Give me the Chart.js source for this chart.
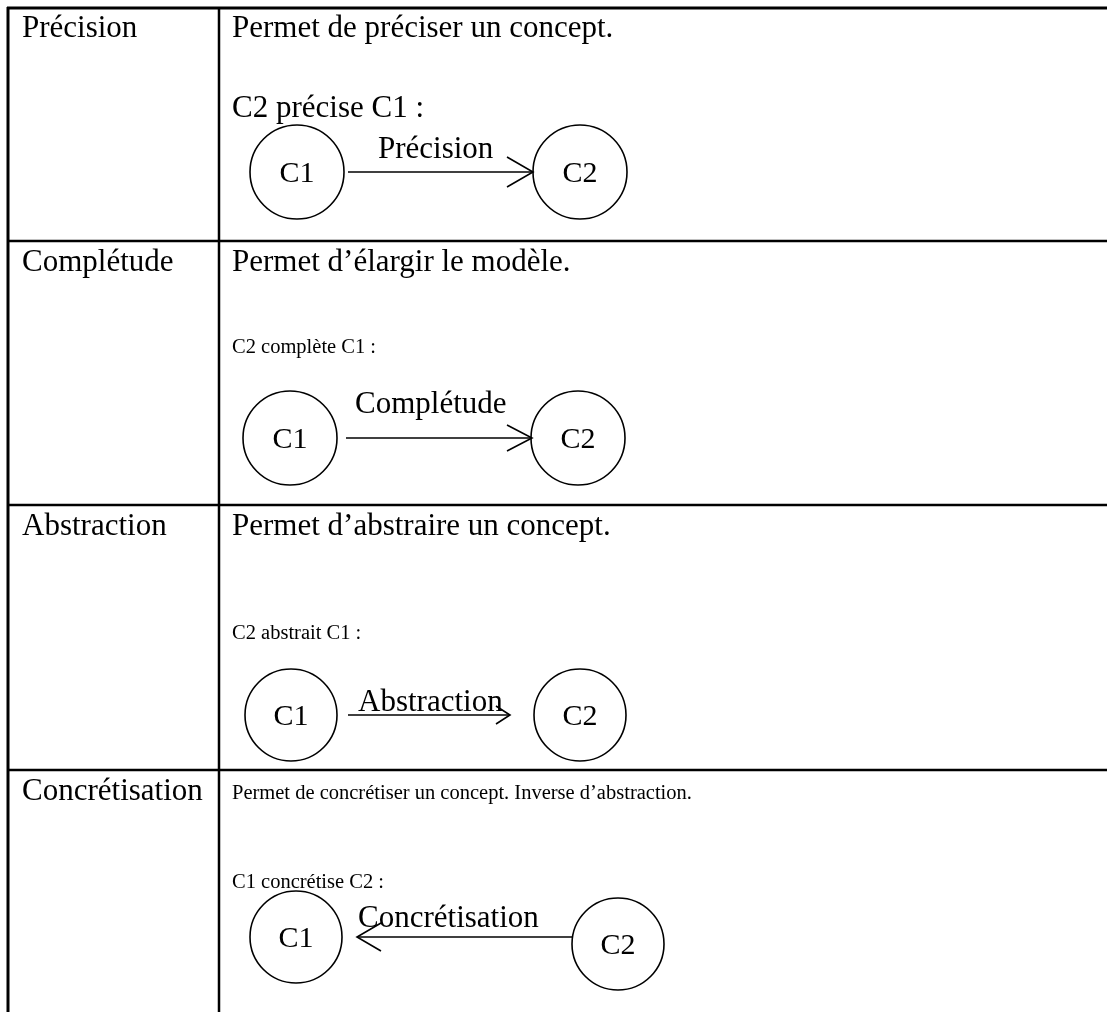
<!DOCTYPE html>
<html>
<head>
<meta charset="utf-8">
<script src="https://cdn.jsdelivr.net/npm/chart.js@4/dist/chart.umd.min.js"></script>
<style>
  html, body { margin: 0; padding: 0; background: #fff; }
  canvas { display: block; }
</style>
</head>
<body>
<canvas id="diagram" width="1107" height="1012"></canvas>
<script>
// Table content
const rowLabels = ['Précision', 'Complétude', 'Abstraction', 'Concrétisation'];
const descriptions = [
  'Permet de préciser un concept.',
  'Permet d\u2019élargir le modèle.',
  'Permet d\u2019abstraire un concept.',
  'Permet de concrétiser un concept. Inverse d\u2019abstraction.'
];
const captions = ['C2 précise C1 :', 'C2 complète C1 :', 'C2 abstrait C1 :', 'C1 concrétise C2 :'];
const relationLabels = ['Précision', 'Complétude', 'Abstraction', 'Concrétisation'];
const nodeNames = ['C1', 'C2'];

// Layout (page coordinates, y downward)
const W = 1107, H = 1012;
const rowTop = [7, 241, 505, 770];
const colX = [8, 219];
const nodeCenter = {
  C1: [[297, 172], [290, 438], [291, 715], [296, 937]],
  C2: [[580, 172], [578, 438], [580, 715], [618, 944]]
};
const nodeR = [47, 47, 46, 46];
const arrowEnds = [[348, 533], [346, 532], [348, 510], [572, 357]]; // start x, tip x
const arrowY = [172, 438, 715, 937];
const headLen = [26, 25, 14, 24];
const headHalf = [15, 13, 9, 14];
const relLabelPos = [[378, 158], [355, 413], [358, 711], [358, 927]];
const descSize = [31, 31, 31, 20.5];
const descBase = [37, 271, 535, 799];
const captionSize = [31, 20.5, 20.5, 20.5];
const captionBase = [117, 353, 639, 888];

const FONT = '"Liberation Serif", "Times New Roman", serif';

const lineDs = (pts, width) => ({
  type: 'scatter',
  data: pts.map(([x, y]) => ({ x, y })),
  showLine: true,
  clip: false,
  borderColor: '#000',
  borderWidth: width,
  borderCapStyle: 'butt',
  borderJoinStyle: 'miter',
  pointRadius: 0,
  pointHoverRadius: 0,
  fill: false,
  tension: 0
});

const datasets = [];

// table grid
datasets.push(lineDs([[colX[0] - 1, rowTop[0] + 1], [W, rowTop[0] + 1]], 3));
datasets.push(lineDs([[colX[0], rowTop[0]], [colX[0], H]], 3));
datasets.push(lineDs([[colX[1], rowTop[0]], [colX[1], H]], 2.5));
rowTop.slice(1).forEach(y => datasets.push(lineDs([[colX[0], y], [W, y]], 2.5)));

// arrows
rowLabels.forEach((_, i) => {
  const [x0, x1] = arrowEnds[i];
  const y = arrowY[i];
  const dir = x1 > x0 ? 1 : -1;
  datasets.push(lineDs([[x0, y], [x1, y]], 1.6));
  datasets.push(lineDs([[x1 - dir * headLen[i], y - headHalf[i]], [x1, y], [x1 - dir * headLen[i], y + headHalf[i]]], 1.6));
});

// nodes
const nodePoints = [];
const nodeRadii = [];
rowLabels.forEach((_, i) => {
  nodeNames.forEach(n => {
    const [x, y] = nodeCenter[n][i];
    nodePoints.push({ x, y });
    nodeRadii.push(nodeR[i]);
  });
});
datasets.push({
  type: 'scatter',
  data: nodePoints,
  clip: false,
  pointStyle: 'circle',
  pointRadius: nodeRadii,
  pointHoverRadius: nodeRadii,
  pointBackgroundColor: 'rgba(255,255,255,0)',
  pointBorderColor: '#000',
  pointBorderWidth: 1.6
});

// text drawn in page coordinates through the scales
const textPlugin = {
  id: 'tableText',
  afterDatasetsDraw(chart) {
    const { ctx, scales: { x, y } } = chart;
    const put = (str, px, py, size, align) => {
      ctx.font = `${size}px ${FONT}`;
      ctx.textAlign = align || 'left';
      ctx.textBaseline = 'alphabetic';
      ctx.fillText(str, x.getPixelForValue(px), y.getPixelForValue(py));
    };
    ctx.save();
    ctx.fillStyle = '#000';
    rowLabels.forEach((label, i) => {
      put(label, 22, rowTop[i] + 30, 31);
      put(descriptions[i], 232, descBase[i], descSize[i]);
      put(captions[i], 232, captionBase[i], captionSize[i]);
      put(relationLabels[i], relLabelPos[i][0], relLabelPos[i][1], 31);
      nodeNames.forEach(n => {
        const [cx, cy] = nodeCenter[n][i];
        put(n, cx, cy + 10, 30, 'center');
      });
    });
    ctx.restore();
  }
};

new Chart(document.getElementById('diagram'), {
  type: 'scatter',
  data: { datasets },
  options: {
    responsive: false,
    devicePixelRatio: 1,
    animation: false,
    events: [],
    layout: { padding: 0, autoPadding: false },
    scales: {
      x: { type: 'linear', min: 0, max: W, display: false },
      y: { type: 'linear', min: 0, max: H, reverse: true, display: false }
    },
    plugins: { legend: { display: false }, tooltip: { enabled: false } }
  },
  plugins: [textPlugin]
});
</script>
</body>
</html>
